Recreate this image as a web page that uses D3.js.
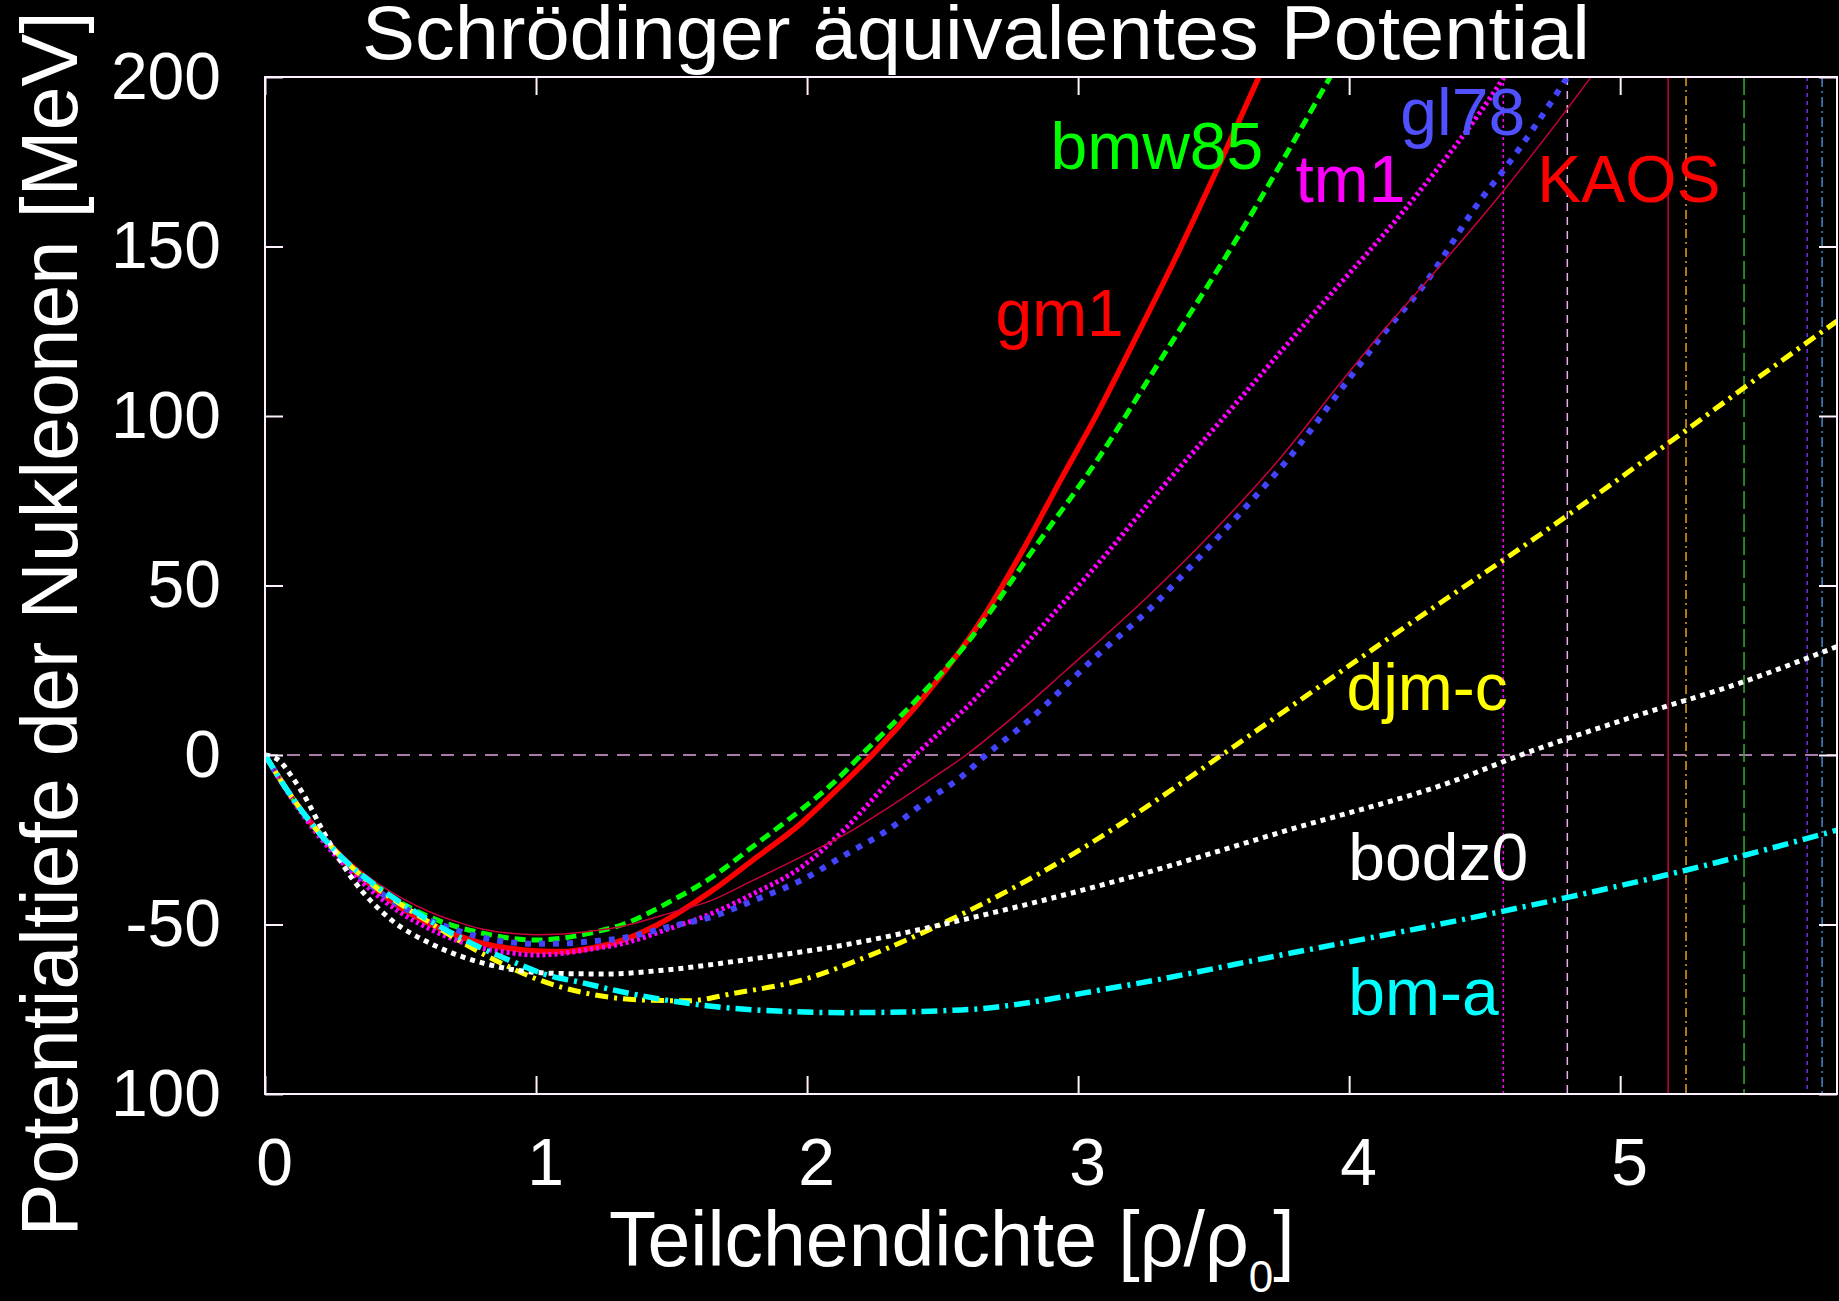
<!DOCTYPE html>
<html>
<head>
<meta charset="utf-8">
<script src="https://cdn.jsdelivr.net/npm/d3@7"></script>
<style>
  body { margin: 0; background: #000; }
  svg { display: block; font-family: "Liberation Sans", Arial, Helvetica, sans-serif; }
</style>
</head>
<body>
<div id="chart"></div>
<script>
// curves: [dichte, potential]
var gm1 = [[0,0],[0.1,-12.5],[0.2,-23],[0.3,-32],[0.4,-39],[0.5,-45],[0.6,-49.5],[0.7,-53],[0.8,-55.5],
  [0.9,-57],[1.0,-57.8],[1.1,-58],[1.2,-57],[1.32,-54.6],[1.45,-50],[1.65,-40],[1.8,-31],[1.98,-20],
  [2.1,-11],[2.24,0],[2.415,15.6],[2.53,27],[2.661,42],[2.8,61],[2.938,81.5],[3.066,100],[3.2,121],
  [3.362,147],[3.52,174],[3.667,200],[3.75,215]];
var bmw85 = [[0,0],[0.1,-12.5],[0.2,-23],[0.3,-31.5],[0.4,-38],[0.5,-43.5],[0.6,-47.5],[0.7,-50.5],
  [0.8,-52.5],[0.9,-54],[1.0,-54.6],[1.1,-54],[1.2,-52.5],[1.32,-50],[1.5,-43],[1.65,-36],[1.8,-27],
  [1.98,-16],[2.1,-8],[2.2,0],[2.4,16],[2.587,32.7],[2.833,60.4],[3.079,88],[3.3,116],[3.568,150],
  [3.93,200],[4.0,210]];
var tm1 = [[0,0],[0.1,-13],[0.2,-24],[0.3,-33],[0.4,-40.5],[0.5,-46.5],[0.6,-51],[0.7,-54.5],[0.8,-57],
  [0.9,-58.3],[1.0,-59],[1.1,-58.5],[1.2,-57.3],[1.32,-55.6],[1.5,-51],[1.65,-46.7],[1.8,-41],[1.98,-33],
  [2.15,-21],[2.3,-8],[2.4,0],[2.6,15],[2.833,35],[3.079,57],[3.3,78],[3.509,97],[3.878,131],[4.247,165],
  [4.566,199.3],[4.65,210]];
var gl78 = [[0,0],[0.1,-12.5],[0.2,-23],[0.3,-32],[0.4,-39],[0.5,-44.5],[0.6,-48.5],[0.7,-51.5],[0.8,-53.8],
  [0.9,-55.2],[1.0,-55.7],[1.1,-55.6],[1.2,-55],[1.32,-54],[1.5,-50.5],[1.65,-47.7],[1.8,-43],[1.98,-36.9],
  [2.15,-29],[2.3,-22],[2.45,-13],[2.57,-6.4],[2.66,0],[2.8,9],[3.079,30],[3.263,43],[3.448,58.4],
  [3.653,76.2],[3.755,85.4],[4.0,111],[4.124,124],[4.27,138],[4.492,164.5],[4.569,172.4],[4.8,199.3],
  [4.9,212]];
var kaos = [[0,0],[0.1,-12],[0.2,-22],[0.3,-30.5],[0.4,-37],[0.5,-42],[0.6,-46],[0.7,-49],[0.8,-51.3],
  [0.9,-52.5],[1.0,-53],[1.1,-52.8],[1.2,-52],[1.32,-50.5],[1.5,-46.5],[1.65,-42.8],[1.8,-37],[1.98,-30],
  [2.15,-23],[2.3,-15.5],[2.45,-7.5],[2.587,0],[2.75,10.5],[2.956,25],[3.263,47.2],[3.448,61.7],[3.75,88],
  [4.0,113],[4.124,125],[4.3,141],[4.569,166.4],[4.886,199.3],[5.0,212]];
var djmc = [[0,0],[0.1,-12.5],[0.2,-23],[0.3,-31.5],[0.4,-38.5],[0.5,-44],[0.6,-49],[0.7,-54],[0.8,-58.5],
  [0.9,-62.5],[1.0,-66],[1.186,-70.3],[1.4,-72.3],[1.56,-72.5],[1.73,-70.3],[1.98,-66.4],[2.22,-59.5],
  [2.526,-48.7],[2.944,-31],[3.363,-9.3],[3.53,0],[3.78,14],[4.075,30.5],[4.357,46],[4.578,58],
  [5.178,92],[5.462,108.6],[5.8,128]];
var bodz0 = [[0,0],[0.05,-1.5],[0.1,-6.5],[0.147,-12.3],[0.215,-22.6],[0.326,-36.9],[0.467,-48.7],
  [0.608,-55.5],[0.805,-61.4],[1.063,-64.4],[1.26,-64.6],[1.48,-63.4],[1.81,-60],[2.14,-56],[2.526,-49.5],
  [3.154,-36.9],[3.781,-22],[4.409,-7],[4.6,-1],[5.037,11],[5.455,21.6],[5.8,32]];
var bma = [[0,0],[0.1,-12.5],[0.2,-23],[0.3,-31.5],[0.4,-38],[0.5,-43.5],[0.6,-48.5],[0.7,-53],[0.8,-57],
  [0.9,-60.5],[1.063,-65.4],[1.15,-66.8],[1.284,-69.3],[1.48,-72.3],[1.81,-75.2],[2.14,-76],[2.57,-75.2],
  [3.154,-68.3],[3.781,-58.5],[4.409,-48.7],[4.806,-42],[5.242,-34],[5.8,-22.2]];

// vertical marker lines (dichte)
var markers = [4.569, 4.805, 5.177, 5.243, 5.457, 5.690, 5.745];

var xTicks = [0, 1, 2, 3, 4, 5];
var yTicks = [-100, -50, 0, 50, 100, 150, 200];
var yTickLabels = ["100", "-50", "0", "50", "100", "150", "200"];

// label names and where they sit (data coords)
var labelNames = ["gm1", "bmw85", "tm1", "gl78", "KAOS", "djm-c", "bodz0", "bm-a"];
var labelX = [2.695, 2.898, 3.802, 4.189, 4.694, 3.99, 3.997, 3.997];
var labelY = [123.6, 173, 163, 183, 163, 13.3, -36.9, -76.7];

var W = 1839, H = 1301;

var x = d3.scaleLinear().domain([0, 5.8]).range([265, 1837]);
var y = d3.scaleLinear().domain([-100, 200]).range([1094, 77]);

var svg = d3.select('#chart').append('svg')
  .attr('width', W)
  .attr('height', H)
  .style('background', '#000');

svg.append('defs').append('clipPath').attr('id', 'plotclip')
  .append('rect')
  .attr('x', x(0)).attr('y', y(200))
  .attr('width', x(5.8) - x(0)).attr('height', y(-100) - y(200));

// styles for the curves
var series = [
  {data: gm1,   color: '#ff0000', width: 5.5, dash: null},
  {data: bmw85, color: '#00ff00', width: 5,   dash: '11 6'},
  {data: tm1,   color: '#ff00ff', width: 5,   dash: '3 3'},
  {data: gl78,  color: '#4444ff', width: 6,   dash: '6 8'},
  {data: kaos,  color: '#c8003c', width: 1.5, dash: null},
  {data: djmc,  color: '#ffff00', width: 5,   dash: '13 6 3 6'},
  {data: bodz0, color: '#ffffff', width: 5,   dash: '5 5'},
  {data: bma,   color: '#00ffff', width: 5.5, dash: '16 6 3 6'}
];
var labelColors = ['#ff0000', '#00ff00', '#ff00ff', '#5050ff', '#ff0000', '#ffff00', '#ffffff', '#00ffff'];

var markerStyles = [
  {color: '#ff00ff', dash: '3 3'},
  {color: '#e8b0e8', dash: '8 6'},
  {color: '#c8003c', dash: null},
  {color: '#e8a020', dash: '9 4 2 4'},
  {color: '#30b030', dash: '18 5'},
  {color: '#7030e0', dash: '4 4'},
  {color: '#4a86c8', dash: '10 4 2 4'}
];

var plot = svg.append('g').attr('clip-path', 'url(#plotclip)');

// zero line
plot.append('line')
  .attr('x1', x(0)).attr('x2', x(5.8))
  .attr('y1', y(0)).attr('y2', y(0))
  .attr('stroke', '#e0a0e0')
  .attr('stroke-width', 1.5)
  .attr('stroke-dasharray', '13 9');

plot.selectAll('line.marker')
  .data(markers)
  .enter()
  .append('line')
  .attr('class', 'marker')
  .attr('x1', function(d) { return x(d); })
  .attr('x2', function(d) { return x(d); })
  .attr('y1', y(200))
  .attr('y2', y(-100))
  .attr('stroke', function(d, i) { return markerStyles[i].color; })
  .attr('stroke-width', 1.5)
  .attr('stroke-dasharray', function(d, i) { return markerStyles[i].dash; });

var line = d3.line()
  .x(function(d) { return x(d[0]); })
  .y(function(d) { return y(d[1]); })
  .curve(d3.curveMonotoneX);

plot.selectAll('path.curve')
  .data(series)
  .enter()
  .append('path')
  .attr('class', 'curve')
  .attr('d', function(d) { return line(d.data); })
  .attr('fill', 'none')
  .attr('stroke', function(d) { return d.color; })
  .attr('stroke-width', function(d) { return d.width; })
  .attr('stroke-dasharray', function(d) { return d.dash; });

// labels
svg.append('g').selectAll('text')
  .data(labelNames)
  .enter()
  .append('text')
  .attr('x', function(d, i) { return x(labelX[i]); })
  .attr('y', function(d, i) { return y(labelY[i]); })
  .attr('fill', function(d, i) { return labelColors[i]; })
  .style('font-size', '66px')
  .text(function(d) { return d; });

// frame
svg.append('rect')
  .attr('x', x(0)).attr('y', y(200))
  .attr('width', x(5.8) - x(0)).attr('height', y(-100) - y(200))
  .attr('fill', 'none')
  .attr('stroke', '#fff0ff')
  .attr('stroke-width', 2);

function styleAxis(g) {
  g.select('.domain').remove();
  g.selectAll('line').attr('stroke', '#fff0ff').attr('stroke-width', 2);
  g.selectAll('text').attr('fill', '#ffffff').style('font-size', '66px')
    .style('font-family', '"Liberation Sans", Arial, sans-serif');
}

svg.append('g')
  .attr('transform', 'translate(0,' + y(-100) + ')')
  .call(d3.axisBottom(x).tickValues(xTicks).tickSize(-18).tickPadding(44).tickFormat(d3.format('d')))
  .call(styleAxis)
  .selectAll('text').attr('dx', 9);

svg.append('g')
  .attr('transform', 'translate(0,' + y(200) + ')')
  .call(d3.axisTop(x).tickValues(xTicks).tickSize(-18).tickFormat(''))
  .call(styleAxis);

svg.append('g')
  .attr('transform', 'translate(' + x(0) + ',0)')
  .call(d3.axisLeft(y).tickValues(yTicks).tickSize(-18).tickPadding(44)
    .tickFormat(function(d, i) { return yTickLabels[i]; }))
  .call(styleAxis);

svg.append('g')
  .attr('transform', 'translate(' + x(5.8) + ',0)')
  .call(d3.axisRight(y).tickValues(yTicks).tickSize(-18).tickFormat(''))
  .call(styleAxis);

// titles
svg.append('text')
  .attr('x', 976)
  .attr('y', 59)
  .attr('text-anchor', 'middle')
  .attr('fill', '#fff')
  .attr('textLength', 1228)
  .attr('lengthAdjust', 'spacingAndGlyphs')
  .style('font-size', '76px')
  .text('Schrödinger äquivalentes Potential');

svg.append('text')
  .attr('transform', 'translate(77,' + 624 + ') rotate(-90)')
  .attr('text-anchor', 'middle')
  .attr('fill', '#fff')
  .attr('textLength', 1225)
  .attr('lengthAdjust', 'spacingAndGlyphs')
  .style('font-size', '80px')
  .text('Potentialtiefe der Nukleonen [MeV]');

var xt = svg.append('text')
  .attr('x', 609)
  .attr('y', 1266)
  .attr('fill', '#fff')
  .style('font-size', '77px');
xt.append('tspan').text('Teilchendichte [ρ/ρ');
xt.append('tspan').attr('dy', 26).style('font-size', '44px').text('0');
xt.append('tspan').attr('dy', -26).text(']');
</script>
</body>
</html>
